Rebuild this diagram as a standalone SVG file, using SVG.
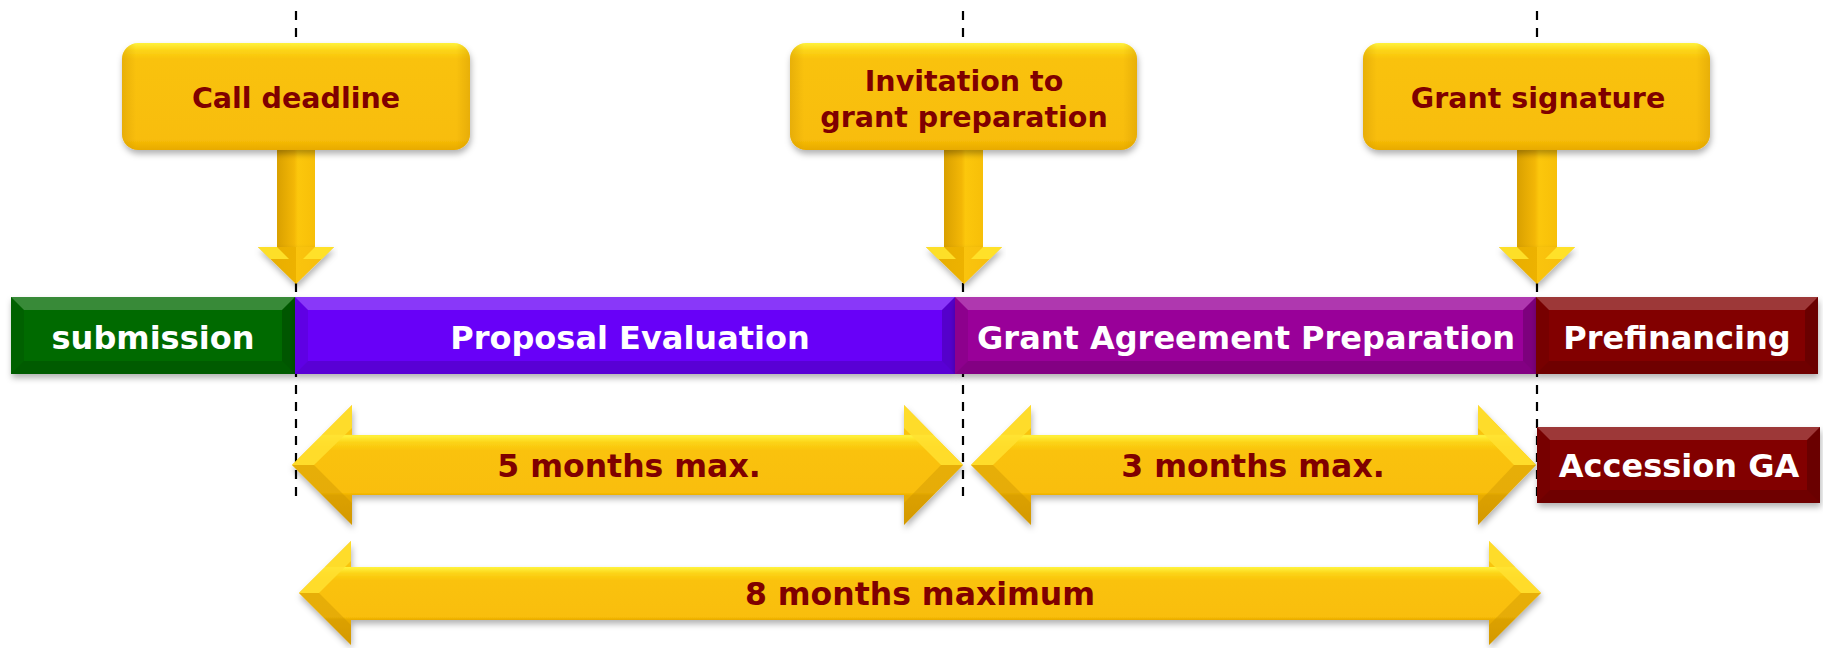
<svg xmlns="http://www.w3.org/2000/svg" width="1823" height="648" viewBox="0 0 1823 648">
<defs>
  <filter id="sh" x="-5%" y="-10%" width="110%" height="130%">
    <feDropShadow dx="1" dy="4" stdDeviation="3" flood-color="#000" flood-opacity="0.3"/>
  </filter>
  <linearGradient id="boxG" x1="0" y1="0" x2="0" y2="1">
    <stop offset="0" stop-color="#FFF23C"/>
    <stop offset="0.07" stop-color="#FCD418"/>
    <stop offset="0.15" stop-color="#F9C208"/>
    <stop offset="0.9" stop-color="#F8BD08"/>
    <stop offset="1" stop-color="#E8AA00"/>
  </linearGradient>
  <linearGradient id="boxSide" x1="0" y1="0" x2="1" y2="0">
    <stop offset="0" stop-color="#C88F00" stop-opacity="0.35"/>
    <stop offset="0.04" stop-color="#C88F00" stop-opacity="0"/>
    <stop offset="0.96" stop-color="#C88F00" stop-opacity="0"/>
    <stop offset="1" stop-color="#C88F00" stop-opacity="0.35"/>
  </linearGradient>
  <linearGradient id="stemG" x1="0" y1="0" x2="1" y2="0">
    <stop offset="0" stop-color="#D9A000"/>
    <stop offset="0.45" stop-color="#F3B706"/>
    <stop offset="0.55" stop-color="#FCC70C"/>
    <stop offset="1" stop-color="#F7BF08"/>
  </linearGradient>
  <linearGradient id="headG" x1="0" y1="0" x2="1" y2="0">
    <stop offset="0" stop-color="#E6AC00"/>
    <stop offset="0.5" stop-color="#EDB204"/>
    <stop offset="0.5" stop-color="#FAC40A"/>
    <stop offset="1" stop-color="#F6BC08"/>
  </linearGradient>
  <linearGradient id="arrG" x1="0" y1="0" x2="0" y2="1">
    <stop offset="0" stop-color="#F8C010"/>
    <stop offset="0.245" stop-color="#F9C410"/>
    <stop offset="0.255" stop-color="#FFF23C"/>
    <stop offset="0.31" stop-color="#FCD418"/>
    <stop offset="0.38" stop-color="#FAC208"/>
    <stop offset="0.73" stop-color="#F9BE08"/>
    <stop offset="0.755" stop-color="#E9AC00"/>
    <stop offset="1" stop-color="#DDA000"/>
  </linearGradient>
  <style>
    .guide{stroke:#000;stroke-width:2.2;stroke-dasharray:9 8;fill:none}
    .box{fill:url(#boxG);filter:url(#sh)}
    .boxs{fill:url(#boxSide)}
    .stem{fill:url(#stemG)}
    .head{fill:url(#headG);filter:url(#sh)}
    .hw{fill:#FFE42C;opacity:0.9}
    .hl{fill:#FFE030;opacity:0.85}
    .hd{fill:#C48C00;opacity:0.35}
    .ct{font-family:"DejaVu Sans","Verdana",sans-serif;font-weight:bold;font-size:28.5px;fill:#7F0000;text-anchor:middle}
    .bt{font-family:"DejaVu Sans","Verdana",sans-serif;font-weight:bold;font-size:32px;fill:#FFFFFF;text-anchor:middle}
    .at{font-family:"DejaVu Sans","Verdana",sans-serif;font-weight:bold;font-size:31.5px;fill:#7F0000;text-anchor:middle}
    .bar{filter:url(#sh)}
    .ft{fill:#FFFFFF;opacity:0.22}
    .fl{fill:#000;opacity:0.08}
    .fr{fill:#000;opacity:0.18}
    .fb{fill:#000;opacity:0.14}
    .arr{fill:url(#arrG);filter:url(#sh)}
  </style>
</defs>
<rect width="1823" height="648" fill="#FFFFFF"/>

<g id="guides">
  <line class="guide" x1="296" y1="11" x2="296" y2="497"/>
  <line class="guide" x1="963" y1="11" x2="963" y2="497"/>
  <line class="guide" x1="1537" y1="11" x2="1537" y2="497"/>
</g>

<g id="bar-submission">
  <rect class="bar" x="11" y="297" width="284" height="77" fill="#066B06"/>
  <polygon class="ft" points="11,297 295,297 282,310 24,310"/>
  <polygon class="fl" points="11,297 24,310 24,361 11,374"/>
  <polygon class="fr" points="295,297 295,374 282,361 282,310"/>
  <polygon class="fb" points="11,374 295,374 282,361 24,361"/>
  <text class="bt" x="153" y="349">submission</text>
</g>
<g id="bar-evaluation">
  <rect class="bar" x="295" y="297" width="660" height="77" fill="#6805F8"/>
  <polygon class="ft" points="295,297 955,297 942,310 308,310"/>
  <polygon class="fl" points="295,297 308,310 308,361 295,374"/>
  <polygon class="fr" points="955,297 955,374 942,361 942,310"/>
  <polygon class="fb" points="295,374 955,374 942,361 308,361"/>
  <text class="bt" x="630" y="349">Proposal Evaluation</text>
</g>
<g id="bar-grant-prep">
  <rect class="bar" x="955" y="297" width="581" height="77" fill="#990599"/>
  <polygon class="ft" points="955,297 1536,297 1523,310 968,310"/>
  <polygon class="fl" points="955,297 968,310 968,361 955,374"/>
  <polygon class="fr" points="1536,297 1536,374 1523,361 1523,310"/>
  <polygon class="fb" points="955,374 1536,374 1523,361 968,361"/>
  <text class="bt" x="1246" y="349">Grant Agreement Preparation</text>
</g>
<g id="bar-prefinancing">
  <rect class="bar" x="1536" y="297" width="282" height="77" fill="#820606"/>
  <polygon class="ft" points="1536,297 1818,297 1805,310 1549,310"/>
  <polygon class="fl" points="1536,297 1549,310 1549,361 1536,374"/>
  <polygon class="fr" points="1818,297 1818,374 1805,361 1805,310"/>
  <polygon class="fb" points="1536,374 1818,374 1805,361 1549,361"/>
  <text class="bt" x="1677" y="349">Prefinancing</text>
</g>

<g id="connectors">
  <g id="arrow-call">
    <rect class="stem" x="277" y="148" width="38" height="100"/>
    <polygon class="head" points="258,247 334,247 296,284"/>
    <polygon class="hw" points="258,247 277,247 289,259 270,259"/>
    <polygon class="hw" points="334,247 315,247 303,259 322,259"/>
  </g>
  <g id="arrow-invitation">
    <rect class="stem" x="944" y="148" width="39" height="100"/>
    <polygon class="head" points="926,247 1002,247 964,284"/>
    <polygon class="hw" points="926,247 944,247 956,259 938,259"/>
    <polygon class="hw" points="1002,247 983,247 971,259 990,259"/>
  </g>
  <g id="arrow-signature">
    <rect class="stem" x="1517" y="148" width="40" height="100"/>
    <polygon class="head" points="1499,247 1575,247 1537,284"/>
    <polygon class="hw" points="1499,247 1517,247 1529,259 1511,259"/>
    <polygon class="hw" points="1575,247 1557,247 1545,259 1563,259"/>
  </g>
</g>

<g id="callout-call-deadline">
  <rect class="box" x="122" y="43" width="348" height="107" rx="16"/>
  <rect class="boxs" x="122" y="43" width="348" height="107" rx="16"/>
  <text class="ct" x="296" y="108">Call deadline</text>
</g>
<g id="callout-invitation">
  <rect class="box" x="790" y="43" width="347" height="107" rx="16"/>
  <rect class="boxs" x="790" y="43" width="347" height="107" rx="16"/>
  <text class="ct" x="964" y="91">Invitation to</text>
  <text class="ct" x="964" y="127">grant preparation</text>
</g>
<g id="callout-signature">
  <rect class="box" x="1363" y="43" width="347" height="107" rx="16"/>
  <rect class="boxs" x="1363" y="43" width="347" height="107" rx="16"/>
  <text class="ct" x="1538" y="108">Grant signature</text>
</g>

<g id="span-5-months">
  <path class="arr" d="M292,465 L352,405 L352,435 L904,435 L904,405 L963,465 L904,525 L904,495 L352,495 L352,525 Z"/>
  <polygon class="hl" points="292,465 352,405 352,428 314,465" opacity="0.5"/>
  <polygon class="hd" points="292,465 314,465 352,503 352,525"/>
  <polygon class="hl" points="963,465 904,405 904,428 941,465" opacity="0.5"/>
  <polygon class="hd" points="963,465 941,465 904,503 904,525"/>
  <text class="at" x="629" y="477">5 months max.</text>
</g>
<g id="span-3-months">
  <path class="arr" d="M971,465 L1031,405 L1031,435 L1478,435 L1478,405 L1536,465 L1478,525 L1478,495 L1031,495 L1031,525 Z"/>
  <polygon class="hl" points="971,465 1031,405 1031,428 993,465" opacity="0.5"/>
  <polygon class="hd" points="971,465 993,465 1031,503 1031,525"/>
  <polygon class="hl" points="1536,465 1478,405 1478,428 1514,465" opacity="0.5"/>
  <polygon class="hd" points="1536,465 1514,465 1478,503 1478,525"/>
  <text class="at" x="1253" y="477">3 months max.</text>
</g>
<g id="span-8-months">
  <path class="arr" d="M299,593 L351,541 L351,567 L1489,567 L1489,541 L1541,593 L1489,645 L1489,620 L351,620 L351,645 Z"/>
  <polygon class="hl" points="299,593 351,541 351,561 319,593" opacity="0.5"/>
  <polygon class="hd" points="299,593 319,593 351,625 351,645"/>
  <polygon class="hl" points="1541,593 1489,541 1489,561 1521,593" opacity="0.5"/>
  <polygon class="hd" points="1541,593 1521,593 1489,625 1489,645"/>
  <text class="at" x="920" y="605">8 months maximum</text>
</g>

<g id="box-accession">
  <rect class="bar" x="1537" y="427" width="283" height="76" fill="#820606"/>
  <polygon class="ft" points="1537,427 1820,427 1807,440 1550,440"/>
  <polygon class="fl" points="1537,427 1550,440 1550,490 1537,503"/>
  <polygon class="fr" points="1820,427 1820,503 1807,490 1807,440"/>
  <polygon class="fb" points="1537,503 1820,503 1807,490 1550,490"/>
  <text class="bt" x="1679" y="477">Accession GA</text>
</g>
</svg>
